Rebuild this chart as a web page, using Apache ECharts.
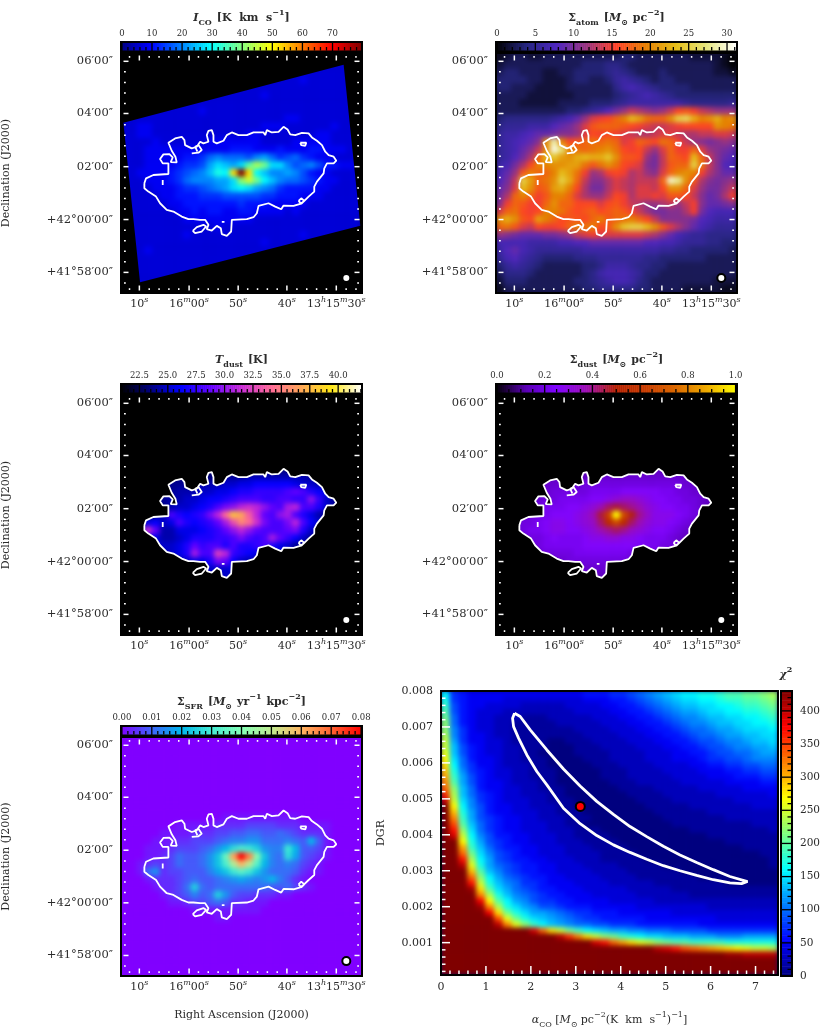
<!DOCTYPE html>
<html><head><meta charset="utf-8"><title>M63 maps</title>
<script src="https://cdn.jsdelivr.net/npm/echarts@6/dist/echarts.min.js"></script>
<style>html,body{margin:0;padding:0;background:#fff;overflow:hidden}
#c{position:absolute;left:0;top:0;width:830px;height:1030px;z-index:1}
.u{position:absolute;z-index:0}</style></head><body><div id="c"></div>
<script>
// ---------- data (one base-36 digit per map cell, 0..z spans the colour range) ----------
const icoRows=["3333333333333333333333333333333","3333333333333333333333333333333","3333333333333333333333333333333","3333333333333333333333343333333","3333333333333333333333333333333","3333333333333333334333333333333","3333333333333333333333333333333","3333333333433333333333333333333","3333333333333333333334433333333","3344333333333333334443333334333","3344333333333333443333333443333","3333433333344444443333444443333","3334444444444455544454445544433","3334444455689888 79a867865443333".replace(' ',''),"33344445667acbacgjhcc978975544333".slice(0,31),"33444456789beDnznDb99a975443333".replace(/D/g,'d'),"333444568999aacikhdb9887654433 ".trim()+"3","3333444566789acdca98655 5544333".replace(' ',''),"3333344555666777 7766555444333333".replace(' ','').slice(0,31),"3333334455555556555444443333333","3333333445455445544443433333333","3333333344444444433333333333333","3333333333334333333333333333333","3333333343333333333333343333333","3333333333333333334333333333333","3334333333333333333333333333333","3333333333333333333333333333333","3333333333333333333333333333333","3333333333333333333333333333333","3333333333333333333333333333333","3333333333333333333333333333333"];
const atomRows=["1233223333333333443333333222210","2333333333344455433333333333 210".replace(' ','').slice(0,31),"3443332233444456543334333333221","4444332223443346765434433333333","4433322223333335787654444333333","3333222222333334567876544444444","3332222233334445677777776555556","3333333334456 79bdfedcdfijhfeddde".replace(' ','').slice(0,31),"4555555678adghikmqolkknstpmnpmn","56667779abdgjkkkjihgffghiiiinml","6778 9aabccdgihihgfeefggfeeffggf".replace(' ',''),"6789acnwmijklklkghkjilkhfdcbcdc","678acfnyumlklmnlihifdgkhhkgdcba","679bekqronpqpprnjjidbfkjiqkfca9","78beimmnnoolјlnlihgcbfjkkslfc98".replace('ј','j'),"8adjmkkmqolhdehihefdcgkmnmhecaa","9bfsoklnspkfcceg fefffkxvnjecbcd".replace(' ',''),"acgqnjkopmiebbegfeggfinnkgdbbdf","bekmkhjmmkgeddfihegghgjjifcabeh","chkjhhknkkiiigijhfeddefdfhcaabc","gkli hiммljijkijkjhfdbbcceh b988".replace(/ /g,'').replace(/м/g,'m'),"npnjiomkijjikmjklmkifccccb98777","kljgfihhikmlmijnrssqnjgeca87666","dcbaaabbcdfghggggggfeca87665 55".replace(' ','')+"5","888877778899aaaaaaa9988766655444".slice(0,31),"79a876666667777777777665544 44433".replace(' ','').slice(0,31),"689765444455566666655444444 3333".replace(' ',''),"4676543333344577765544333333333","3555433333345788876443333333333","2444333333445678875433333333222","1333333333344555554433332222211"];
const tdustRows=Array(10).fill("4444444444444444444444444444444").concat(["4444444444444555666666665544444","4444445555666778899999 87765444".replace(' ',''),"444445566677889aabbbbcdca98765444".slice(0,31),"44445566778 99abcccbbccbbfb75444".replace(' ',''),"4444456778 9acefhihfdcghcca75444".replace(' ',''),"444456ca9abehmsqlhdcfgca864 4444".replace(' ',''),"4458978ca9abdgkomiecceHc97544444".replace('H','h'),"447id668889abdfhfdcccdea7544444","44498667 8aaabbcecbcgdb97544 4444".replace(/ /g,''),"4444777 8adbccacaabca875444 44444".replace(/ /g,''),"44444678agccjhba9887765 444444444".replace(/ /g,'').slice(0,31),"444444567 88aed976554444444 44444".replace(/ /g,'').slice(0,31),"4444444444677787544444444444444","4444444444446754444444444444444"]).concat(Array(7).fill("4444444444444444444444444444444"));
const sdustRows=Array(10).fill("5555555555555555555555555555555").concat(["5555555555555666666666666555555","5555566666677777777777776655555","5555666777778888999998877665555","55556677888899abccba99887765555","5555678889 9abdfgfedba9988765555".replace(' ',''),"555677899 9abdgmznhecaaa9876555 5".replace(/ /g,'').slice(0,31),"55677 89aa9abcfjnjfdbaa98765 5555".replace(/ /g,'').slice(0,31),"5567889aa99abdefecba99876555555","5556778988 89aabbaa98887655 55555".replace(/ /g,'').slice(0,31),"5555678888899999998887765555555","5555567777888888877765555555555","5555555667777777765555555555555","5555555555666665555555555555555"]).concat(Array(8).fill("5555555555555555555555555555555"));
const sfrRows=Array(10).fill("0000000000000000000000000000000").concat(["0000000000000111111111100000000","0000000111112222333322211110000","0000011112223344554454322210000","0000111223334566775556549410000","000111233345 79cedb766d94431 0000".replace(/ /g,'').slice(0,31),"000112354457agrztia65c843210000","0012323544 57aelqmf9656532100000".replace(/ /g,''),"0015723344468adfda7555421100000","0001222345445678767964210000000","000012235b54555555544532100000 0".replace(/ /g,'').slice(0,31),"000001234645b7433222110000000 00".replace(/ /g,'').slice(0,31),"0000001123345422111000000000000","0000000001111111110000000000000","0000000000001100000000000000000"]).concat(Array(7).fill("0000000000000000000000000000000"));
const chiRows=["d654444444444444555667 89abcddeefgghhij","e654444333333333444556789abccddeffgghi","f7544333322222333344556789abbccddeffgh","g75433322222222333344556789aabccddeefg","h8543322211122222333445567899abbccddef","i85433221111122222333445567899abbccdde","i96433221111111222233344556788 9aabcccd","j964432211111111222233344556788 9aabbcc","ka64433211110011122223334455677899abbc","kb754332211100011122223334455677899aab","lb754332211000011112222333445567788 9aa","mc8544322111000011122223334445667789 99","nd8644322211000001112222333344556677 88","oe965433221110000011122223333444556677","pfa75433221110000011122222333344455566","qga7544322211000000111222223333344445 5","rib85443322111000000111122222333334444","tjb86543322211000000011112222223333334","wkc96543332211100000001111222222233333","zmd97544332221100000000111112222222333","zoea7544333221110000000011111122222222","zqfa7654433222111000000001111111222222","zsgb8654433322110000000000111111111222","zuic8654433322211100000000001111111112","zwkd9755443332211110000000000011111111","zzmea765443332221111000000000000111111","zzpfb86554433322211110000000000000 1111","zzrhc9765443332222111100000000000000 11","zzujda7655443332221111100000000000000 1","zzxlea876554433322221111100000000000 01","zzzogb976554433332222111111000000000 00","zzzrida87655443333222211111110000000 00","zzzukeb98665444333322222111111110000 00","zzzyngca8765544433333222221111111111 11","zzzzqjeb98765544433333222222111111111 1","zzzzvmgda97665544443333322222222222222","zzzzyqjeca97765554444433333333222222 22","zzzzzvnhecaa98766555444444333333333333","zzzzzzslhecba9876655555444444443333333","zzzzzzxqlifdba988776 66555555544444444","zzzzzzzzzzwrnkhfdcbaa998887777666666 66","zzzzzzzzzzzzzxtqnkihfedccbbbaaa999aaaa","zzzzzzzzzzzzzzzzzwurpnlkihggffffeeeeee","zzzzzzzzzzzzzzzzzzzzzzzzxwusrqponmlkkj","zzzzzzzzzzzzzzzzzzzzzzzzzzzzzzzzyyxxxx","zzzzzzzzzzzzzzzzzzzzzzzzzzzzzzzzzzzzzz","zzzzzzzzzzzzzzzzzzzzzzzzzzzzzzzzzzzzzz","zzzzzzzzzzzzzzzzzzzzzzzzzzzzzzzzzzzzzz"];
// white contour of the fitted region, sky-map image units
const contourOuter=[[433,550],[438,535],[460,525],[505,522],[505,490],[488,490],[480,477],[490,463],[508,462],[518,472],[512,486],[530,487],[526,470],[515,452],[505,428],[525,415],[545,410],[553,420],[555,435],[575,445],[590,440],[600,425],[610,430],[625,425],[620,405],[625,392],[635,390],[640,405],[640,425],[650,430],[670,422],[680,405],[695,397],[715,405],[740,405],[760,397],[790,397],[795,405],[800,390],[815,397],[835,395],[850,380],[862,388],[870,403],[885,405],[905,398],[925,400],[935,412],[950,422],[965,435],[975,455],[985,465],[1000,470],[1008,482],[1000,490],[980,490],[972,505],[970,520],[950,545],[942,560],[942,575],[925,590],[910,605],[900,612],[880,618],[850,617],[843,628],[825,620],[805,610],[775,618],[770,640],[760,652],[740,658],[695,660],[693,695],[680,708],[665,703],[662,685],[650,678],[635,692],[620,688],[625,675],[615,660],[600,660],[580,658],[565,658],[545,650],[520,635],[500,630],[480,610],[468,590],[445,575],[433,565],[433,550]];
const contourIslands=[[[578,693],[590,682],[610,675],[618,680],[605,695],[585,700],[578,693]],[[575,460],[595,458],[605,450],[595,435],[585,440],[592,455]],[[900,428],[918,428],[915,437],[903,435],[900,428]],[[895,603],[903,595],[912,603],[903,612],[895,603]],[[488,540],[488,555]],[[665,666],[673,666]]];
const footprint=[[370,368],[420,848],[1080,678],[1030,193]];
const beam=[[1038,835]];
const raTicks=[418,567,714,860,1008];
const raLabels=['{n|10}{u|s}','{n|16}{u|m}{n|00}{u|s}','{n|50}{u|s}','{n|40}{u|s}','{n|13}{u|h}{n|15}{u|m}{n|30}{u|s}'];
const decTicks=[183,340,500,659,818];
const decLabels=['06′00″','04′00″','02′00″','+42°00′00″','+41°58′00″'];
const crescentX=[1.637,1.763,1.985,2.356,2.726,3.096,3.467,3.837,4.207,4.578,4.948,5.319,5.689,6.059,6.43,6.822,6.689,6.43,6.059,5.689,5.319,4.948,4.578,4.207,3.837,3.467,3.096,2.726,2.356,2.133,1.911,1.726,1.615,1.593,1.637];
const crescentY=[.00738,.00729,.00692,.00636,.00583,.00536,.00493,.00457,.00423,.00395,.00368,.00344,.00323,.00303,.00284,.0027,.00264,.00266,.00275,.00287,.003,.00314,.00332,.00351,.00372,.00398,.00431,.00474,.00539,.00576,.00622,.00669,.00701,.00724,.00738];
const bestFit=[[3.1,.00479]];
const alphaTicks=[0,1,2,3,4,5,6,7];
const dgrTicks=[.001,.002,.003,.004,.005,.006,.007,.008];
// colour maps
const jet=['#00007f','#0000ff','#007fff','#00ffff','#7fff7f','#ffff00','#ff7f00','#ff0000','#7f0000'];
const cmr=['#000000','#262680','#4d26bf','#993380','#ff4026','#e68000','#e6bf1a','#e6e680','#ffffff'];
const gnu2=['#000000','#000080','#0000ff','#6300ff','#c729d6','#ff6996','#ffa857','#ffe817','#ffffff'];
const gnu=['#000000','#5a00b4','#7f04ff','#9c0db4','#b52000','#c93d00','#dd6b00','#efab00','#ffff00'];
const rainbow=['#8000ff','#4062fa','#00b5eb','#40ebd4','#80ffb5','#bfeb8e','#ffb562','#ff6232','#ff0000'];
const F='DejaVu Serif',TC='#2b2b2b';
const titleRich={n:{fontFamily:F,fontSize:11,color:TC,lineHeight:18,verticalAlign:'middle'},i:{fontFamily:F,fontSize:11,fontStyle:'italic',color:TC,lineHeight:18,verticalAlign:'middle'},sub:{fontFamily:F,fontSize:8,color:TC,lineHeight:9,verticalAlign:'bottom'},sup:{fontFamily:F,fontSize:8,color:TC,lineHeight:9,verticalAlign:'top'}};
const tickRich={n:{fontFamily:F,fontSize:11,color:TC,lineHeight:16,verticalAlign:'middle'},u:{fontFamily:F,fontSize:8,fontStyle:'italic',color:TC,lineHeight:8,verticalAlign:'top'}};
const maps=[
 {title:'{i|I}{sub|CO} {n|[K  km  s}{sup|−1}{n|]}',rows:icoRows,range:[-.3,79.8],cmap:jet,left:121,top:53,h:240,under:'#000',mask:'foot',labels:[0,10,20,30,40,50,60,70],fmt:v=>''+v,minor:2,ylabel:1,cw:240},
 {title:'{n|Σ}{sub|atom} {n|[}{i|M}{sub|⊙} {n|pc}{sup|−2}{n|]}',rows:atomRows,range:[-.13,31.3],cmap:cmr,left:496,top:53,h:240,under:'#0c0a28',labels:[0,5,10,15,20,25,30],fmt:v=>''+v,minor:1},
 {title:'{i|T}{sub|dust} {n|[K]}',rows:tdustRows,range:[20.88,42.1],cmap:gnu2,left:121,top:395,h:240,under:'#000',mask:'contour',labels:[22.5,25,27.5,30,32.5,35,37.5,40],fmt:v=>v.toFixed(1),minor:.5,ylabel:1},
 {title:'{n|Σ}{sub|dust} {n|[}{i|M}{sub|⊙} {n|pc}{sup|−2}{n|]}',rows:sdustRows,range:[-.004,1.006],cmap:gnu,left:496,top:395,h:240,under:'#000',mask:'contour',labels:[0,.2,.4,.6,.8,1],fmt:v=>v.toFixed(1),minor:.05},
 {title:'{n|Σ}{sub|SFR} {n|[}{i|M}{sub|⊙} {n|yr}{sup|−1} {n|kpc}{sup|−2}{n|]}',rows:sfrRows,range:[-.0003,.0803],cmap:rainbow,left:121,top:737,h:239,under:'#8000ff',labels:[0,.01,.02,.03,.04,.05,.06,.07,.08],fmt:v=>v.toFixed(2),minor:.002,ylabel:1,xlabel:1}
];
const grid=[],xAxis=[],yAxis=[],series=[],visualMap=[],title=[];
const cat=n=>Array.from({length:n},(_,i)=>''+i);
const base=(o)=>Object.assign({zlevel:1,z:5,axisLine:{show:false,onZero:false},axisTick:{show:false},splitLine:{show:false},minorSplitLine:{show:false}},o);
function decode(rows,range,w){const out=[];rows.forEach((row,r)=>{const s=row.replace(/\s/g,'');for(let c=0;c<w;c++){const ch=s[Math.min(c,s.length-1)];const v=Math.min(range[1],range[0]+parseInt(ch,36)/35*(range[1]-range[0]));out.push([c,r,v]);}});return out;}
function addAxes(i,xv,yv,xn,yn,xInv,yInv){const xc=xAxis.length;xAxis.push(base({type:'category',gridIndex:i,show:false,data:cat(xn)}));const yc=yAxis.length;yAxis.push(base({type:'category',gridIndex:i,show:false,inverse:!!yInv,data:cat(yn)}));const xi=xAxis.length;xAxis.push(base(Object.assign({type:'value',gridIndex:i},xv)));const yi=yAxis.length;yAxis.push(base(Object.assign({type:'value',gridIndex:i},yv)));return{xc,yc,xi,yi};}
function tickSeries(ax,list,color,st){series.push({type:'custom',xAxisIndex:ax.xi,yAxisIndex:ax.yi,zlevel:1,z:8,silent:true,clip:false,data:list,renderItem(p,api){const v=api.value(0),side=api.value(1),kind=api.value(2),cs=p.coordSys,L=kind?st.major:st.minor,ins=kind?st.insMajor:st.insMinor;let a,b;
 if(side<2){const px=api.coord([v,ax.yr])[0];const y0=side==0?cs.y+cs.height-ins:cs.y+ins,d=side==0?-1:1;a=[px,y0];b=[px,y0+d*L];}
 else{const py=api.coord([ax.xr,v])[1];const x0=side==2?cs.x+ins:cs.x+cs.width-ins,d=side==2?1:-1;a=[x0,py];b=[x0+d*L,py];}
 return{type:'line',shape:{x1:a[0],y1:a[1],x2:b[0],y2:b[1]},style:{stroke:color,lineWidth:st.width}};}});}
function range(a,b,s){const o=[];const n=Math.round((b-a)/s);for(let i=0;i<=n;i++)o.push(a+i*s);return o;}
function cbar(m,vis,idx){
 const gi=grid.length,N=120,vert=!!m.vertical;
 grid.push({left:m.cb[0],top:m.cb[1],width:m.cb[2],height:m.cb[3],show:true,borderColor:'#000',borderWidth:2,backgroundColor:'transparent',zlevel:1,z:6,containLabel:false});
 const lab={show:true,customValues:m.labels,formatter:v=>m.fmt(v),fontFamily:F,fontSize:m.labelSize||8.5,color:TC,margin:m.labelMargin||6,hideOverlap:false};
 const vAx={min:m.range[0],max:m.range[1],axisLabel:lab},oAx={min:0,max:1,axisLabel:{show:false}};
 const ax=addAxes(gi,vert?Object.assign({},oAx,{position:'bottom'}):Object.assign({},vAx,{position:'top'}),vert?Object.assign({},vAx,{position:'right'}):Object.assign({},oAx,{position:'left'}),vert?1:N,vert?N:1,false,false);
 ax.xr=0;ax.yr=0;
 const d=[];for(let i=0;i<N;i++){const v=m.range[0]+(i+.5)/N*(m.range[1]-m.range[0]);d.push(vert?[0,i,v]:[i,0,v]);}
 series.push({type:'heatmap',xAxisIndex:ax.xc,yAxisIndex:ax.yc,data:d,zlevel:1,z:2,silent:true,progressive:0,itemStyle:{borderWidth:0}});
 vis.push(series.length-1);
 const ticks=[];const side=vert?3:0;
 const maj=m.labels;
 maj.forEach(v=>ticks.push([v,side,1]));
 const lo=Math.ceil(m.range[0]/m.minor-1e-6),hi=Math.floor(m.range[1]/m.minor+1e-6);
 for(let k=lo;k<=hi;k++){const v=k*m.minor;if(!maj.some(x=>Math.abs(x-v)<m.minor/4))ticks.push([v,side,0]);}
 tickSeries(ax,ticks,'#000',{major:vert?11:10,minor:3.5,insMajor:0,insMinor:1,width:1.3});
}
maps.forEach((m,i)=>{
 const gi=grid.length;
 grid.push({left:m.left,top:m.top,width:241,height:m.h,show:true,borderColor:'#000',borderWidth:2,backgroundColor:'transparent',zlevel:1,z:6,containLabel:false});
 const ax=addAxes(gi,{min:363,max:1085,position:'bottom',
   name:m.xlabel?'Right Ascension (J2000)':'',nameLocation:'middle',nameGap:34,nameTextStyle:{fontFamily:F,fontSize:11,color:TC},
   axisLabel:{show:true,customValues:raTicks,formatter:v=>raLabels[raTicks.indexOf(v)],rich:tickRich,margin:3,hideOverlap:false}},
  {min:158,max:880,inverse:true,position:'left',
   name:m.ylabel?'Declination (J2000)':'',nameLocation:'middle',nameRotate:90,nameGap:109,nameTextStyle:{fontFamily:F,fontSize:11,color:TC},
   axisLabel:{show:true,customValues:decTicks,formatter:v=>decLabels[decTicks.indexOf(v)],fontFamily:F,fontSize:11.5,color:TC,margin:8,hideOverlap:false}},31,31,false,true);
 ax.xr=363;ax.yr=158;
 series.push({type:'heatmap',xAxisIndex:ax.xc,yAxisIndex:ax.yc,data:decode(m.rows,m.range,31),zlevel:0,z:1,silent:true,progressive:0,itemStyle:{borderWidth:0}});
 const vis=[series.length-1];
 const outer=[[363,158],[1085,158],[1085,880],[363,880]];
 if(m.mask){
  let ring;
  if(m.mask==='foot')ring=outer.concat([[363,368]],footprint,[footprint[0],[363,368]]);
  else{const rev=contourOuter.slice().reverse();ring=outer.concat([[363,550]],rev,[[363,550]]);}
  series.push({type:'custom',xAxisIndex:ax.xi,yAxisIndex:ax.yi,zlevel:1,z:1,silent:true,clip:false,data:[[363,158]],renderItem(p,api){return{type:'polygon',shape:{points:ring.map(q=>api.coord(q))},style:{fill:'#000'}};}});
 }
 const line=contourOuter.slice();contourIslands.forEach(r=>{line.push(['-','-']);r.forEach(q=>line.push(q));});
 series.push({type:'line',xAxisIndex:ax.xi,yAxisIndex:ax.yi,data:line,showSymbol:false,symbol:'none',silent:true,connectNulls:false,lineStyle:{color:'#fff',width:1.8},zlevel:1,z:9});
 series.push({type:'scatter',xAxisIndex:ax.xi,yAxisIndex:ax.yi,data:beam,symbolSize:8,silent:true,itemStyle:{color:'#fff',borderColor:'#000',borderWidth:2,opacity:1},zlevel:1,z:10});
 const ticks=[];
 for(const s of[0,1]){raTicks.forEach(v=>ticks.push([v,s,1]));range(388.5,1067,29.5).forEach(v=>{if(!raTicks.some(t=>Math.abs(t-v)<8))ticks.push([v,s,0]);});}
 for(const s of[2,3]){decTicks.forEach(v=>ticks.push([v,s,1]));range(183,865,31.75).forEach(v=>{if(!decTicks.some(t=>Math.abs(t-v)<8))ticks.push([v,s,0]);});}
 tickSeries(ax,ticks,'#fff',{major:5,minor:1.8,insMajor:2.5,insMinor:3,width:1.5});
 m.cb=[m.left,m.top-11,241,9.5];m.labelMargin=4;
 cbar(m,vis);
 visualMap.push({type:'continuous',show:false,seriesIndex:vis,dimension:2,min:m.range[0],max:m.range[1],inRange:{color:m.cmap}});
 title.push({text:m.title,left:m.left+120.5,top:m.top-44,textAlign:'center',textStyle:{rich:titleRich},zlevel:1,z:10,padding:0});
});
// chi-square panel
(function(){
 const gi=grid.length,R=[0,430];
 grid.push({left:441,top:691,width:337,height:285,show:true,borderColor:'#000',borderWidth:2,backgroundColor:'transparent',zlevel:1,z:6,containLabel:false});
 const ax=addAxes(gi,{min:0,max:7.5,position:'bottom',
  name:'{i|α}{sub|CO} {n|[}{i|M}{sub|⊙} {n|pc}{sup|−2}{n|(K  km  s}{sup|−1}{n|)}{sup|−1}{n|]}',nameLocation:'middle',nameGap:36,nameTextStyle:{rich:titleRich},
  axisLabel:{show:true,customValues:alphaTicks,formatter:v=>''+v,fontFamily:F,fontSize:11,color:TC,margin:7,hideOverlap:false}},
  {min:.0001,max:.008,position:'left',name:'DGR',nameLocation:'middle',nameRotate:90,nameGap:54,nameTextStyle:{fontFamily:F,fontSize:11,color:TC},
  axisLabel:{show:true,customValues:dgrTicks,formatter:v=>v.toFixed(3),fontFamily:F,fontSize:11,color:TC,margin:8,hideOverlap:false}},38,48,false,true);
 ax.xr=0;ax.yr=.001;
 series.push({type:'heatmap',xAxisIndex:ax.xc,yAxisIndex:ax.yc,data:decode(chiRows,R,38),zlevel:0,z:1,silent:true,progressive:0,itemStyle:{borderWidth:0}});
 const vis=[series.length-1];
 series.push({type:'line',xAxisIndex:ax.xi,yAxisIndex:ax.yi,data:crescentX.map((x,i)=>[x,crescentY[i]]),smooth:false,showSymbol:false,symbol:'none',silent:true,lineStyle:{color:'#fff',width:2.8},zlevel:1,z:9});
 series.push({type:'scatter',xAxisIndex:ax.xi,yAxisIndex:ax.yi,data:bestFit,symbolSize:9,silent:true,itemStyle:{color:'#ff0000',borderColor:'#000',borderWidth:2,opacity:1},zlevel:1,z:10});
 const ticks=[];
 alphaTicks.forEach(v=>{if(v>0)ticks.push([v,0,1]);});
 range(.2,7.4,.2).forEach(v=>{if(Math.abs(v-Math.round(v))>.05)ticks.push([v,0,0]);});
 dgrTicks.forEach(v=>{if(v<.008)ticks.push([v,2,1]);});
 range(.0002,.0078,.0002).forEach(v=>{if(Math.abs(v/.001-Math.round(v/.001))>.05)ticks.push([v,2,0]);});
 tickSeries(ax,ticks,'#fff',{major:8,minor:3.5,insMajor:1,insMinor:1,width:1.5});
 const m={range:R,labels:[0,50,100,150,200,250,300,350,400],fmt:v=>''+v,minor:10,vertical:true,cb:[781,691,11,285],labelSize:10.5,labelMargin:8};
 cbar(m,vis);
 visualMap.push({type:'continuous',show:false,seriesIndex:vis,dimension:2,min:R[0],max:R[1],inRange:{color:jet}});
 title.push({text:'{i|χ}{sup|2}',left:786,top:666,textAlign:'center',textStyle:{rich:titleRich},zlevel:1,z:10,padding:0});
})();
// solid colour behind each blurred map so the soft edge never fades to the page colour
const holes=maps.map(m=>[m.left,m.top,241,m.h,m.under]).concat([[441,691,337,285,'#00008a']]);
holes.forEach(h=>{const d=document.createElement('div');d.className='u';d.style.cssText+=`left:${h[0]}px;top:${h[1]}px;width:${h[2]}px;height:${h[3]}px;background:${h[4]}`;document.body.appendChild(d);});
const chart=echarts.init(document.getElementById('c'),null,{renderer:'canvas',width:830,height:1030});
chart.setOption({animation:false,backgroundColor:'transparent',tooltip:{show:false},title,grid,xAxis,yAxis,visualMap,series});
function soften(){const cv=chart.getDom().querySelector('canvas');if(!cv)return;cv.style.filter='blur(2.4px)';
 cv.style.clipPath="path('"+holes.map(h=>`M${h[0]} ${h[1]}H${h[0]+h[2]}V${h[1]+h[3]}H${h[0]}Z`).join('')+"')";}
soften();setTimeout(soften,50);
</script></body></html>
